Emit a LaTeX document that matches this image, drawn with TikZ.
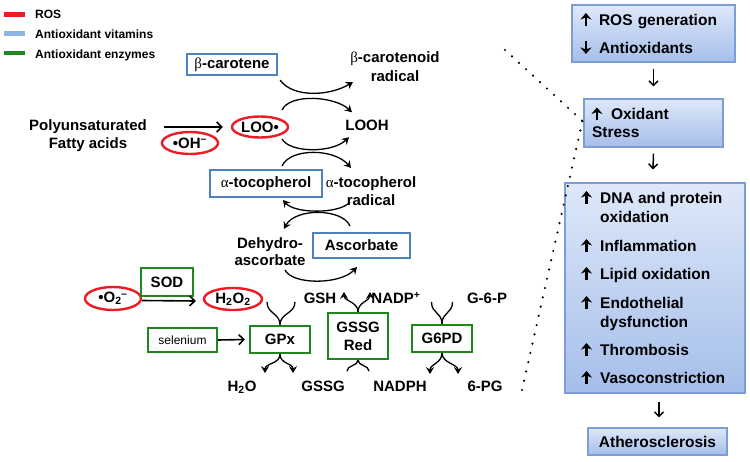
\documentclass[tikz,border=0pt]{standalone}
\usepackage{fontspec}
\setmainfont{Liberation Sans}
\newfontfamily\grk{Liberation Serif}
\usetikzlibrary{arrows.meta,calc,shapes.geometric}
\definecolor{rosred}{RGB}{237,28,36}
\definecolor{vitblue}{RGB}{79,129,189}
\definecolor{legblue}{RGB}{142,180,227}
\definecolor{enzgreen}{RGB}{30,135,30}
\definecolor{boxtop}{RGB}{222,232,249}
\definecolor{boxbot}{RGB}{165,190,234}
\definecolor{boxline}{RGB}{125,158,212}
\newcommand{\gb}{{\grk\mdseries β}}
\newcommand{\ga}{{\grk\mdseries α}}
\newcommand{\itm}[1]{\begin{tabular}[t]{@{}l@{}}#1\end{tabular}}
\begin{document}
\begin{tikzpicture}[x=1pt,y=-1pt,
  every node/.style={font=\bfseries\fontsize{15}{18}\selectfont, inner sep=0pt},
  leg/.style={anchor=base west, font=\bfseries\fontsize{12}{14}\selectfont},
  vit/.style={draw=vitblue, line width=2.3pt, rectangle},
  enz/.style={draw=enzgreen, line width=2.2pt, rectangle},
  ros/.style={draw=rosred, line width=2.4pt, ellipse},
  rbox/.style={draw=boxline, line width=1.1pt, top color=boxtop, bottom color=boxbot, rectangle, font=\bfseries\fontsize{15.5}{18}\selectfont},
  itemtxt/.style={anchor=base west, font=\bfseries\fontsize{15.5}{19}\selectfont},
  arr/.style={line width=1.6pt, -{Straight Barb[length=5pt,width=10pt]}},
  darr/.style={line width=1.5pt, -{Straight Barb[length=4.5pt,width=9pt]}},
  harr/.style={line width=2.5pt, -{Stealth[length=6.5pt,width=11pt,inset=2pt]}},
  carr/.style={line width=1.3pt, -{Stealth[length=7pt,width=8pt,inset=2.5pt]}},
  cln/.style={line width=1.3pt},
  dotln/.style={line width=2.4pt, line cap=round, dash pattern=on 0pt off 9.5pt},
]
\useasboundingbox (0,0) rectangle (750,461);
% legend
\draw[rosred,line width=4.5pt] (4,14.3) -- (25,14.3);
\draw[legblue,line width=4.5pt] (4,33.5) -- (25,33.5);
\draw[enzgreen,line width=4.5pt] (4,53) -- (25,53);
\node[leg] (lg1) at (35,18.3) {ROS};
\node[leg] (lg2) at (35,38) {Antioxidant vitamins};
\node[leg] (lg3) at (35,58) {Antioxidant enzymes};
% lipid peroxidation chain
\node[vit, minimum width=90pt, minimum height=21pt] (bcar) at (232,64.5) {\gb-carotene};
\node[align=center, font=\bfseries\fontsize{15}{19}\selectfont] (bcr) at (395,66.5) {\gb-carotenoid\\radical};
\node[ros, minimum width=56pt, minimum height=21pt] (loo) at (260,127) {LOO•};
\node[anchor=base] (looh) at (367,130.4) {LOOH};
\node[align=center] (poly) at (88,135.5) {Polyunsaturated\\Fatty acids};
\node[ros, minimum width=56pt, minimum height=22pt] (oh) at (190,143) {•OH\textsuperscript{–}};
\node[vit, minimum width=112pt, minimum height=27pt] (atoc) at (266,183.5) {\ga-tocopherol};
\node[align=center] (atr) at (371,191) {\ga-tocopherol\\radical};
\node[vit, minimum width=97pt, minimum height=25pt] (asc) at (361.5,245.5) {Ascorbate};
\node[align=center, font=\bfseries\fontsize{15}{17}\selectfont] (dha) at (270,251.4) {Dehydro-\\ascorbate};
\draw[arr] ($(poly.east)+(17,-8.5)$) -- ($(loo.west)+(-8,0)$);
% coupled reactions
\draw[carr] ($(bcar.south east)+(2,4)$) .. controls +(13,18) and +(-23,14) .. ($(bcr)+(-42,15.5)$);
\draw[carr] ($(loo)+(22,-17)$) .. controls +(8,-17) and +(-17,-16) .. ($(looh)+(-15,-13)$);
\draw[carr] ($(loo)+(22,12)$) .. controls +(8,14) and +(-17,16) .. ($(looh)+(-18,12)$);
\draw[carr] ($(atoc)+(16,-17.5)$) .. controls +(8,-18) and +(-17,-20) .. ($(atr)+(-20,-23)$);
\draw[carr] ($(atr)+(-21,11)$) .. controls +(-10,12) and +(12,14) .. ($(atoc)+(17,16.5)$);
\draw[carr] ($(asc)+(-11.5,-19.5)$) .. controls +(-8,-18) and +(11,-21) .. ($(dha)+(14,-22.5)$);
\draw[carr] ($(dha)+(15,18.5)$) .. controls +(7,15) and +(-17,18) .. ($(asc)+(-4.5,21.5)$);
% enzymes
\node[ros, minimum width=56pt, minimum height=23pt] (o2) at (113,298.5) {•O\textsubscript{2}\kern-0.5pt\textsuperscript{–}};
\node[enz, minimum width=52pt, minimum height=28pt] (sod) at (167,282) {SOD};
\node[ros, minimum width=58pt, minimum height=22pt] (h2o2) at (233,299) {H\textsubscript{2}O\textsubscript{2}};
\node[enz, minimum width=69pt, minimum height=24pt, line width=2pt, font=\mdseries\fontsize{12}{14}\selectfont] (sel) at (182.5,340) {selenium};
\node[enz, minimum width=60pt, minimum height=27pt] (gpx) at (280,339.5) {GPx};
\node[enz, minimum width=60pt, minimum height=46pt, align=center] (gssg) at (358,336) {GSSG\\Red};
\node[enz, minimum width=60pt, minimum height=27pt] (g6pd) at (442,338.5) {G6PD};
\node[anchor=base] (gsh) at (320,303.4) {GSH};
\node[anchor=base] (nadpp) at (396,303.4) {NADP\textsuperscript{+}};
\node[anchor=base] (g6p) at (487,303.4) {G-6-P};
\node[anchor=base] (h2o) at (242,391.4) {H\textsubscript{2}O};
\node[anchor=base] (gssgt) at (323,391.4) {GSSG};
\node[anchor=base] (nadph) at (400,391.4) {NADPH};
\node[anchor=base] (pg) at (485,391.4) {6-PG};
\draw[arr] ($(o2.east)+(0,2)$) -- ($(h2o2.west)+(-7,2)$);
\draw[arr] (sel.east) -- ($(gpx.west)+(-4,0)$);
% GPx
\draw[cln] ($(gpx.north)+(-13,-23)$) .. controls +(0,12) and +(0,-12) .. (gpx.north);
\draw[cln] ($(gpx.north)+(15,-23)$) .. controls +(0,12) and +(0,-12) .. (gpx.north);
\draw[carr] (gpx.south) .. controls +(0,10) and +(0,-10) .. ($(gpx.south)+(-15,19)$);
\draw[carr] (gpx.south) .. controls +(0,10) and +(0,-10) .. ($(gpx.south)+(13,19)$);
% GSSG Red
\draw[carr] (gssg.north) .. controls +(0,-10) and +(0,9) .. ($(gssg.north)+(-14,-20)$);
\draw[carr] (gssg.north) .. controls +(0,-10) and +(0,9) .. ($(gssg.north)+(12,-20)$);
\draw[cln] ($(gssg.south)+(-11,11)$) .. controls +(0,-6) and +(0,6) .. (gssg.south);
\draw[cln] ($(gssg.south)+(11,11)$) .. controls +(0,-6) and +(0,6) .. (gssg.south);
% G6PD
\draw[cln] ($(g6pd.north)+(-10.5,-22)$) .. controls +(0,12) and +(0,-12) .. (g6pd.north);
\draw[cln] ($(g6pd.north)+(10.5,-22)$) .. controls +(0,12) and +(0,-12) .. (g6pd.north);
\draw[carr] (g6pd.south) .. controls +(0,10) and +(0,-10) .. ($(g6pd.south)+(-12,21)$);
\draw[carr] (g6pd.south) .. controls +(0,10) and +(0,-10) .. ($(g6pd.south)+(16,21)$);
% right column
\node[rbox, minimum width=163pt, minimum height=57pt, text width=145pt, inner xsep=9pt, align=left, font=\bfseries\fontsize{15.5}{28}\selectfont] (r1) at (653.5,33.5) {\hspace*{18pt}ROS generation\\\hspace*{18pt}Antioxidants};
\draw[harr] ($(r1.north west)+(14.5,21.5)$) -- ++(0,-13);
\draw[harr] ($(r1.north west)+(14.5,36.5)$) -- ++(0,13);
\node[rbox, minimum width=139pt, minimum height=48pt, text width=123pt, inner xsep=8pt, align=left] (r2) at (653.5,123) {\hspace*{19pt}Oxidant\\Stress};
\draw[harr] ($(r2.north west)+(13.5,22)$) -- ++(0,-13);
\node[rbox, minimum width=180pt, minimum height=210pt] (r3) at (655,288) {};
\node[itemtxt] (i1) at (600,203.5) {\itm{DNA and protein\\oxidation}};
\node[itemtxt] (i2) at (600,251.5) {\itm{Inflammation}};
\node[itemtxt] (i3) at (600,279.5) {\itm{Lipid oxidation}};
\node[itemtxt] (i4) at (600,308.5) {\itm{Endothelial\\dysfunction}};
\node[itemtxt] (i5) at (600,355.5) {\itm{Thrombosis}};
\node[itemtxt] (i6) at (600,383.5) {\itm{Vasoconstriction}};
\foreach \n in {i1,i2,i3,i4,i5,i6}
  \draw[harr] ($(\n.base west)+(-13.5,0.5)$) -- ++(0,-13);
\node[rbox, minimum width=139pt, minimum height=27pt] (r4) at (657.5,441.5) {Atherosclerosis};
\draw[darr] ($(r1.south)+(0,6)$) -- ($(r2.north)+(0,-12)$);
\draw[darr] ($(r2.south)+(0,6)$) -- ($(r3.north)+(-2,-13)$);
\draw[darr] ($(r3.south)+(4,8)$) -- ($(r4.north)+(1.5,-10)$);
% dotted zoom lines
\coordinate (dtop) at (505,50);
\coordinate (dbot) at (522,390);
\draw[dotln] (dtop) -- ($(r2.west)+(-1,-2)$);
\draw[dotln] (dbot) -- ($(r2.west)+(-1,-2)$);
\end{tikzpicture}
\end{document}
